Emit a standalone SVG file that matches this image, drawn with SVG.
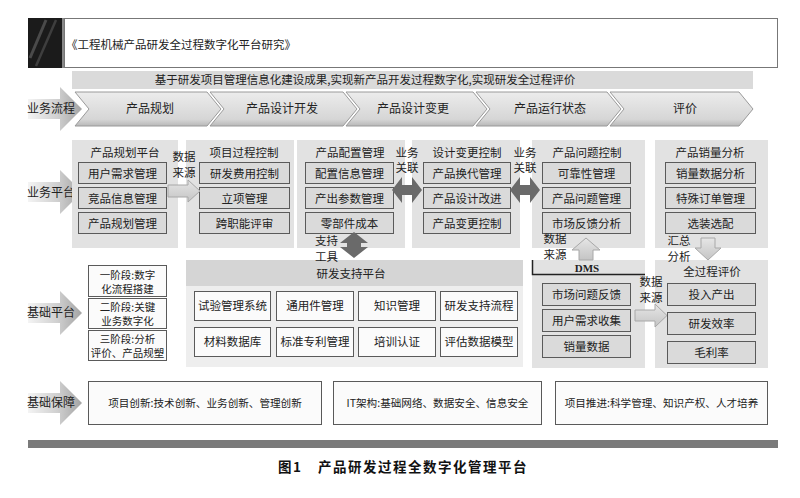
<svg xmlns="http://www.w3.org/2000/svg" width="800" height="498" viewBox="0 0 800 498">
<style>
text{font-family:"Noto Sans CJK SC","Noto Sans",sans-serif;fill:#222;font-size:11.5px}
.c{text-anchor:middle}
.panel{fill:#e2e2e2}
.box{fill:#dadada;stroke:#5a5a5a;stroke-width:1}
.wbox{fill:#fbfbfb;stroke:#5a5a5a;stroke-width:1}
.chev{fill:url(#gChev);stroke:#9a9a9a;stroke-width:1}
.larrow{fill:url(#gLeft)}
.dark{fill:#6a6a6a}
.light{fill:url(#gLight);stroke:#a8a8a8;stroke-width:1}
.sm{font-size:10.6px}
.st{font-size:10.5px}
.lb{font-size:12px}
.cap{font-size:13.5px;font-weight:bold;letter-spacing:1.5px;fill:#111}
</style>
<defs>
<linearGradient id="gChev" x1="0" y1="0" x2="0" y2="1">
<stop offset="0" stop-color="#ececec"/><stop offset="0.8" stop-color="#d6d6d6"/><stop offset="1" stop-color="#b8b8b8"/>
</linearGradient>
<linearGradient id="gLeft" x1="0" y1="0" x2="1" y2="0">
<stop offset="0" stop-color="#f4f4f4"/><stop offset="0.55" stop-color="#cfcfcf"/><stop offset="1" stop-color="#a4a4a4"/>
</linearGradient>
<linearGradient id="gLight" x1="0" y1="0" x2="0" y2="1">
<stop offset="0" stop-color="#e6e6e6"/><stop offset="1" stop-color="#c4c4c4"/>
</linearGradient>
<path id="lar" d="M28,-10 H60 V-22 L82,0 L60,22 V10 H28 Z"/>
</defs>

<g id="title">
<rect x="28" y="18" width="36" height="50" fill="#1b1b1b"/>
<line x1="30" y1="58" x2="46" y2="20" stroke="#4a4a4a" stroke-width="3"/>
<line x1="36" y1="66" x2="56" y2="20" stroke="#3e3e3e" stroke-width="2.5"/>
<rect x="62" y="18" width="2" height="50" fill="#888"/>
<rect x="64.5" y="18.5" width="713" height="49" fill="#fff" stroke="#777"/>
<text x="66" y="49" font-size="12">《工程机械产品研发全过程数字化平台研究》</text>
</g>

<g id="banner">
<rect x="72" y="71" width="681" height="18" fill="#dadada"/>
<text class="c" x="365" y="84">基于研发项目管理信息化建设成果,实现新产品开发过程数字化,实现研发全过程评价</text>
</g>

<g id="row-labels">
<g id="lab-process"><use href="#lar" class="larrow" transform="translate(0,109)"/><text x="27" y="113" class="lb">业务流程</text></g>
<g id="lab-business"><use href="#lar" class="larrow" transform="translate(0,192)"/><text x="27" y="197" class="lb">业务平台</text></g>
<g id="lab-base"><use href="#lar" class="larrow" transform="translate(0,313)"/><text x="27" y="317" class="lb">基础平台</text></g>
<g id="lab-guarantee"><use href="#lar" class="larrow" transform="translate(0,403)"/><text x="27" y="407" class="lb">基础保障</text></g>
</g>

<g id="process">
<g id="chev-1"><path class="chev" d="M75,92 H207 L221,109 L207,126 H75 L89,109 Z"/><text class="c lb" x="150" y="113">产品规划</text></g>
<g id="chev-2"><path class="chev" d="M210,92 H343 L357,109 L343,126 H210 L224,109 Z"/><text class="c lb" x="282" y="113">产品设计开发</text></g>
<g id="chev-3"><path class="chev" d="M346,92 H473 L487,109 L473,126 H346 L360,109 Z"/><text class="c lb" x="413" y="113">产品设计变更</text></g>
<g id="chev-4"><path class="chev" d="M476,92 H607 L621,109 L607,126 H476 L490,109 Z"/><text class="c lb" x="550" y="113">产品运行状态</text></g>
<g id="chev-5"><path class="chev" d="M610,92 H739 L753,109 L739,126 H610 L624,109 Z"/><text class="c lb" x="685" y="113">评价</text></g>
</g>

<g id="col-planning">
<rect class="panel" x="72" y="140" width="106" height="108"/>
<text class="c" x="125" y="157">产品规划平台</text>
<rect class="box" x="78.5" y="162.5" width="88" height="21"/><text class="c" x="122.5" y="177.5">用户需求管理</text>
<rect class="box" x="78.5" y="187.5" width="88" height="21"/><text class="c" x="122.5" y="202.5">竞品信息管理</text>
<rect class="box" x="78.5" y="212.5" width="88" height="21"/><text class="c" x="122.5" y="227.5">产品规划管理</text>
</g>

<g id="col-project">
<rect class="panel" x="186" y="140" width="108" height="108"/>
<text class="c" x="244" y="157">项目过程控制</text>
<rect class="box" x="199.5" y="162.5" width="90" height="21"/><text class="c" x="244.5" y="177.5">研发费用控制</text>
<rect class="box" x="199.5" y="187.5" width="90" height="21"/><text class="c" x="244.5" y="202.5">立项管理</text>
<rect class="box" x="199.5" y="212.5" width="90" height="21"/><text class="c" x="244.5" y="227.5">跨职能评审</text>
</g>

<g id="col-config">
<rect class="panel" x="297" y="140" width="108" height="108"/>
<text class="c" x="350" y="157">产品配置管理</text>
<rect class="box" x="305.5" y="162.5" width="88" height="21"/><text class="c" x="349.5" y="177.5">配置信息管理</text>
<rect class="box" x="305.5" y="187.5" width="88" height="21"/><text class="c" x="349.5" y="202.5">产出参数管理</text>
<rect class="box" x="305.5" y="212.5" width="88" height="21"/><text class="c" x="349.5" y="227.5">零部件成本</text>
</g>

<g id="col-change">
<rect class="panel" x="412" y="140" width="108" height="108"/>
<text class="c" x="467" y="157">设计变更控制</text>
<rect class="box" x="423.5" y="162.5" width="87" height="21"/><text class="c" x="467" y="177.5">产品换代管理</text>
<rect class="box" x="423.5" y="187.5" width="87" height="21"/><text class="c" x="467" y="202.5">产品设计改进</text>
<rect class="box" x="423.5" y="212.5" width="87" height="21"/><text class="c" x="467" y="227.5">产品变更控制</text>
</g>

<g id="col-problem">
<rect class="panel" x="532" y="140" width="113" height="108"/>
<text class="c" x="587" y="157">产品问题控制</text>
<rect class="box" x="542.5" y="162.5" width="88" height="21"/><text class="c" x="586.5" y="177.5">可靠性管理</text>
<rect class="box" x="542.5" y="187.5" width="88" height="21"/><text class="c" x="586.5" y="202.5">产品问题管理</text>
<rect class="box" x="542.5" y="212.5" width="88" height="21"/><text class="c" x="586.5" y="227.5">市场反馈分析</text>
</g>

<g id="col-sales">
<rect class="panel" x="655" y="140" width="113" height="108"/>
<text class="c" x="710" y="157">产品销量分析</text>
<rect class="box" x="665.5" y="162.5" width="90" height="21"/><text class="c" x="710.5" y="177.5">销量数据分析</text>
<rect class="box" x="665.5" y="187.5" width="90" height="21"/><text class="c" x="710.5" y="202.5">特殊订单管理</text>
<rect class="box" x="665.5" y="212.5" width="90" height="21"/><text class="c" x="710.5" y="227.5">选装选配</text>
</g>

<g id="stages">
<rect class="wbox" x="88.5" y="265.5" width="78" height="31"/>
<text class="c st" x="127.5" y="278.5">一阶段:数字</text><text class="c st" x="127.5" y="293">化流程搭建</text>
<rect class="wbox" x="88.5" y="298.5" width="78" height="30"/>
<text class="c st" x="127.5" y="310.5">二阶段:关键</text><text class="c st" x="127.5" y="325">业务数字化</text>
<rect class="wbox" x="88.5" y="330.5" width="78" height="30"/>
<text class="c st" x="127.5" y="342.5">三阶段:分析</text><text class="c st" x="127.5" y="357">评价、产品规塑</text>
</g>

<g id="support-platform">
<rect x="186" y="260" width="337" height="107" fill="#eeeeee"/>
<rect x="186" y="260" width="337" height="26" fill="#d5d5d5"/>
<text class="c" x="351" y="278">研发支持平台</text>
<rect class="wbox" x="194.5" y="291.5" width="76" height="29"/><text class="c" x="232.5" y="310">试验管理系统</text>
<rect class="wbox" x="276.5" y="291.5" width="77" height="29"/><text class="c" x="315" y="310">通用件管理</text>
<rect class="wbox" x="358.5" y="291.5" width="77" height="29"/><text class="c" x="397" y="310">知识管理</text>
<rect class="wbox" x="440.5" y="291.5" width="77" height="29"/><text class="c" x="479" y="310">研发支持流程</text>
<rect class="wbox" x="194.5" y="327.5" width="76" height="29"/><text class="c" x="232.5" y="346">材料数据库</text>
<rect class="wbox" x="276.5" y="327.5" width="77" height="29"/><text class="c" x="315" y="346">标准专利管理</text>
<rect class="wbox" x="358.5" y="327.5" width="77" height="29"/><text class="c" x="397" y="346">培训认证</text>
<rect class="wbox" x="440.5" y="327.5" width="77" height="29"/><text class="c" x="479" y="346">评估数据模型</text>
</g>

<g id="dms">
<rect class="panel" x="532" y="260" width="113" height="108"/>
<path d="M532.5,260 V274.5 H645" fill="none" stroke="#222" stroke-width="1.5"/>
<text class="c" x="587" y="272" style="font-family:'Liberation Serif',serif;font-weight:bold;font-size:11px">DMS</text>
<rect class="box" x="542.5" y="283.5" width="88" height="22"/><text class="c" x="586.5" y="299">市场问题反馈</text>
<rect class="box" x="542.5" y="309.5" width="88" height="22"/><text class="c" x="586.5" y="325">用户需求收集</text>
<rect class="box" x="542.5" y="335.5" width="88" height="22"/><text class="c" x="586.5" y="351">销量数据</text>
</g>

<g id="evaluation">
<rect class="panel" x="655" y="260" width="113" height="108"/>
<text class="c" x="712" y="276">全过程评价</text>
<rect class="box" x="667.5" y="283.5" width="88" height="22"/><text class="c" x="711.5" y="299">投入产出</text>
<rect class="box" x="667.5" y="312.5" width="88" height="22"/><text class="c" x="711.5" y="328">研发效率</text>
<rect class="box" x="667.5" y="341.5" width="88" height="22"/><text class="c" x="711.5" y="357">毛利率</text>
</g>

<g id="guarantee">
<rect class="wbox" x="88.5" y="381.5" width="233" height="43" stroke="#666"/>
<text class="c sm" x="205" y="407">项目创新:技术创新、业务创新、管理创新</text>
<rect class="wbox" x="333.5" y="381.5" width="208" height="43" stroke="#666"/>
<text class="c sm" x="437.5" y="407">IT架构:基础网络、数据安全、信息安全</text>
<rect class="wbox" x="555.5" y="381.5" width="212" height="43" stroke="#666"/>
<text class="c sm" x="661.5" y="407">项目推进:科学管理、知识产权、人才培养</text>
</g>

<g id="connectors">
<path class="light" d="M168,185 H188 V180 L200,191 L188,202 V197 H168 Z"/>
<text class="c" x="184" y="161">数据</text><text class="c" x="184" y="177">来源</text>
<path class="dark" d="M392,190 L402,177 V185 H412 V177 L422,190 L412,203 V195 H402 V203 Z"/>
<text class="c" x="407" y="157" font-size="11">业务</text><text class="c" x="407" y="172" font-size="11">关联</text>
<path class="dark" d="M510,190 L520,177 V185 H530 V177 L540,190 L530,203 V195 H520 V203 Z"/>
<text class="c" x="525" y="157" font-size="11">业务</text><text class="c" x="525" y="172" font-size="11">关联</text>
<path class="dark" d="M354,232 L368,243 H361 V247 H368 L354,258 L340,247 H347 V243 H340 Z"/>
<text x="315" y="245">支持</text><text x="315" y="261">工具</text>
<path class="light" d="M586,238 L600,250 H593 V260 H579 V250 H572 Z"/>
<text class="c" x="555" y="243">数据</text><text class="c" x="555" y="259">来源</text>
<path class="light" d="M701,238 H715 V248 H721 L708,260 L695,248 H701 Z"/>
<text class="c" x="679" y="245">汇总</text><text class="c" x="679" y="261">分析</text>
<path class="light" d="M635,310 H655 V304 L667,315.5 L655,327 V321 H635 Z"/>
<text class="c" x="651" y="286">数据</text><text class="c" x="651" y="302">来源</text>
</g>

<g id="footer">
<rect x="28" y="440" width="750" height="8" fill="#7a7a7a"/>
<text class="cap" x="278" y="472">图1</text>
<text class="cap" x="318" y="472">产品研发过程全数字化管理平台</text>
</g>
</svg>
